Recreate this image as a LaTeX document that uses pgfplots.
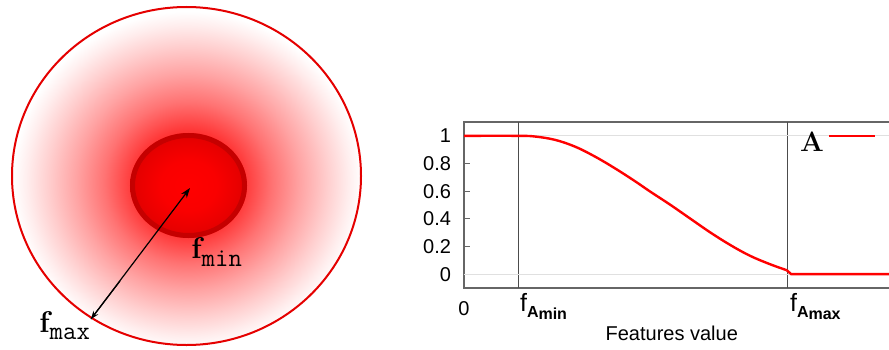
\documentclass[border=0pt]{standalone}
\usepackage{fontspec}
\setsansfont{Liberation Sans}
\usepackage{pgfplots}
\pgfplotsset{compat=1.18}
\usetikzlibrary{arrows.meta}
\pgfdeclareradialshading{glow}{\pgfpoint{0.3bp}{-1.3bp}}{%
  color(0bp)=(red);
  color(4bp)=(red!95);
  color(8bp)=(red!78);
  color(12bp)=(red!55);
  color(16bp)=(red!36);
  color(20bp)=(red!19);
  color(23bp)=(red!7);
  color(25bp)=(white);
  color(50bp)=(white)}
\pgfdeclareradialshading{core}{\pgfpoint{0bp}{0bp}}{%
  color(0bp)=(red);
  color(12bp)=(red!98!black);
  color(20bp)=(red!92!black);
  color(25bp)=(red!88!black);
  color(50bp)=(red!88!black)}
\newcommand{\fsub}[1]{{\sffamily\fontsize{12.5}{12.5}\selectfont f}\raisebox{-3pt}{\sffamily\bfseries\fontsize{8}{8}\selectfont A\raisebox{-1pt}{#1}}}
\begin{document}
\begin{tikzpicture}
\clip (0,0) rectangle (444.5pt,174.5pt);
\fill[white] (0,0) rectangle (444.5pt,174.5pt);
\begin{scope}[x=0.5pt,y=-0.5pt,shift={(0,174.5pt)}]
  % outer glow
  \shade[shading=glow] (186.5,176) ellipse [x radius=174.5, y radius=169];
  \draw[red!90!black, line width=1pt] (186.5,176) ellipse [x radius=174.5, y radius=169];
  % inner disc
  \shade[shading=core] (188.5,185.5) ellipse [x radius=58.5, y radius=52.5];
  \draw[red!70!black, line width=2.5pt, opacity=0.6] (188.5,185.5) ellipse [x radius=56, y radius=50];
  % arrow
  \draw[black, line width=0.6pt, -{Stealth[length=5pt,width=3.5pt]}] (91,319) -- (190,188);
  \draw[black, line width=0.6pt, -{Stealth[length=4pt,width=3pt]}] (120,281) -- (91,319);
  % labels
  \node[anchor=base west, inner sep=0pt] at (191,258) {{\rmfamily\bfseries\fontsize{15}{15}\selectfont f}\raisebox{-4pt}{\ttfamily\fontsize{13}{13}\selectfont min}};
  \node[anchor=base west, inner sep=0pt] at (39,332) {{\rmfamily\bfseries\fontsize{15}{15}\selectfont f}\raisebox{-3.5pt}{\ttfamily\fontsize{13}{13}\selectfont max}};
\end{scope}
\begin{axis}[
  at={(232pt,30.5pt)}, anchor=south west,
  scale only axis, width=216pt, height=83pt,
  xmin=0, xmax=8, ymin=-0.1, ymax=1.1,
  axis line style={black!60, line width=0.6pt},
  tick style={black!60, line width=0.5pt},
  major tick length=3pt,
  /pgf/number format/assume math mode=true,
  tick label style={font=\sffamily\fontsize{10}{10}\selectfont},
  ytick={0,0.2,0.4,0.6,0.8,1},
  yticklabel style={xshift=-3pt},
  xtick={0}, xticklabels={0},
  xticklabel style={yshift=-3pt},
  extra x ticks={1,6},
  extra x tick labels={\fsub{min}, \fsub{max}},
  extra x tick style={grid=major, major grid style={black!70, line width=0.5pt}, major tick length=0pt,
     xticklabel style={anchor=north west, xshift=-2.5pt, yshift=4pt}},
  extra y ticks={0,1}, extra y tick labels={},
  extra y tick style={grid=major, major grid style={black!12, line width=0.5pt}, major tick length=0pt},
  xlabel={Features value},
  xlabel style={font=\sffamily\fontsize{10}{10}\selectfont, at={(axis description cs:0.481,-0.271)}, anchor=center},
  legend plot pos=right,
  legend style={at={(axis description cs:0.768,0.872)}, anchor=west, draw=none, fill=none,
     font=\rmfamily\bfseries\fontsize{14}{14}\selectfont, inner sep=0pt},
  legend image code/.code={\draw[#1] (0pt,3.5pt) -- (23pt,3.5pt);},
  clip=true,
]
\addplot[red, line width=1.2pt, smooth, tension=0.6] coordinates {
 (0,1) (1,1) (1.315,0.995) (1.685,0.971) (2.056,0.922) (2.426,0.85) (2.796,0.765)
 (3.167,0.672) (3.444,0.598) (3.815,0.503) (4.185,0.403) (4.556,0.303) (4.926,0.212)
 (5.296,0.133) (5.667,0.072) (5.975,0.029)};
\addlegendentry{A}
\addplot[red, line width=1.2pt, forget plot] coordinates {(5.975,0.029) (6.06,0) (8,0)};
\end{axis}
\end{tikzpicture}
\end{document}
